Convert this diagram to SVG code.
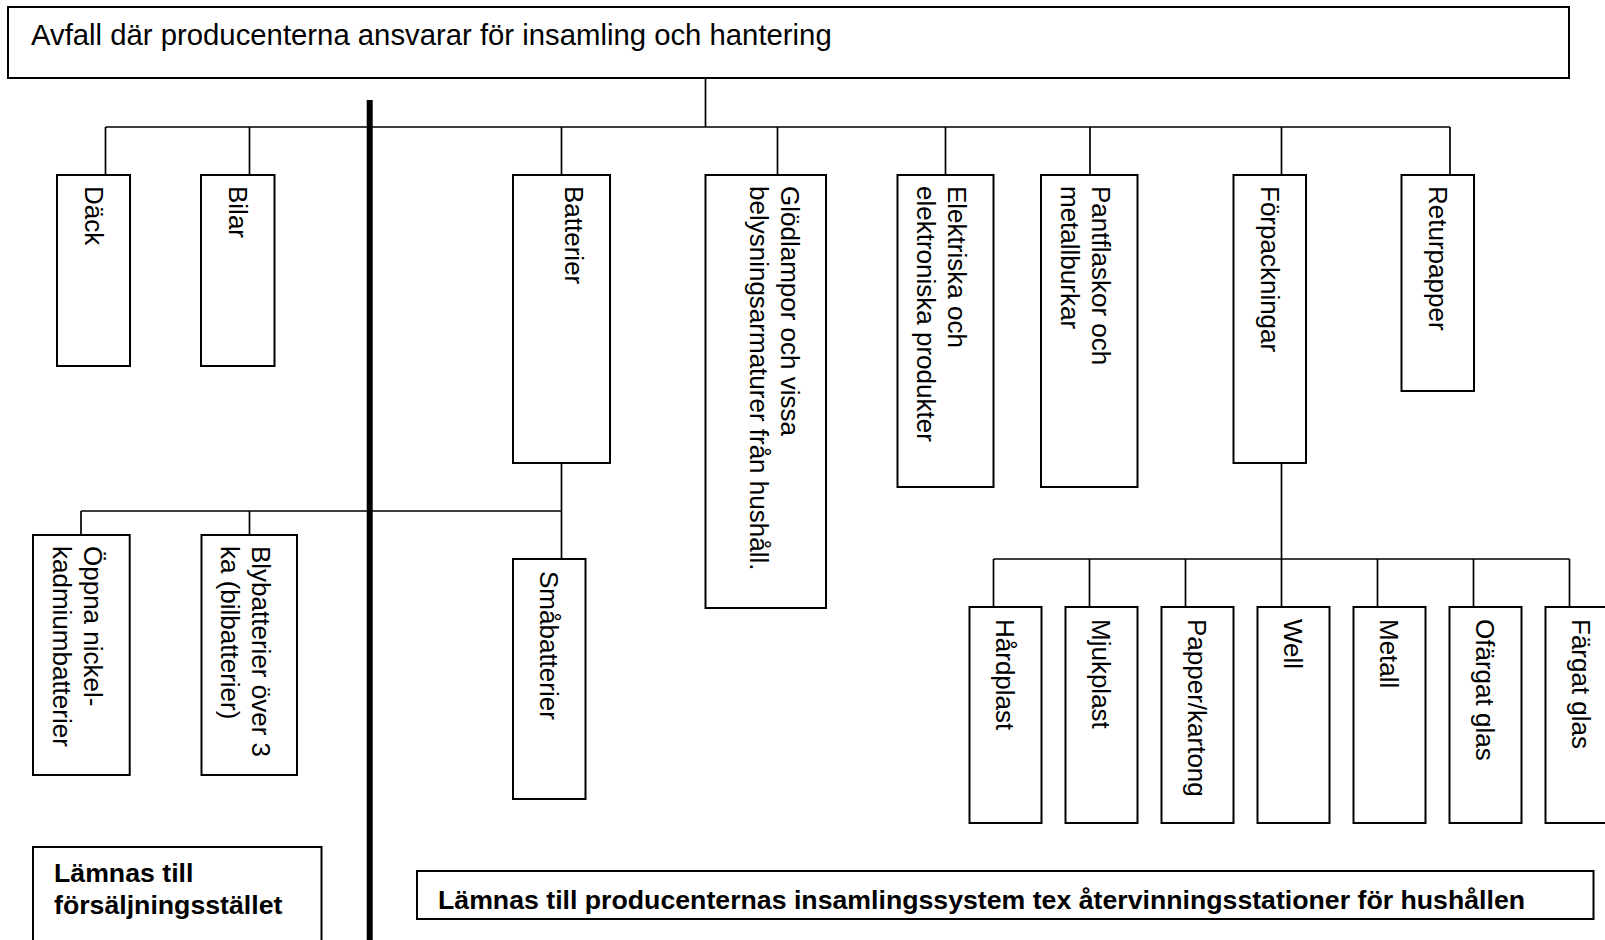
<svg xmlns="http://www.w3.org/2000/svg" width="1605" height="940" viewBox="0 0 1605 940">
<style>
.box{fill:#fff;stroke:#000;stroke-width:2}
.con{fill:none;stroke:#000;stroke-width:1.7}
.t{font-family:"Liberation Sans",Arial,sans-serif;font-size:26px;fill:#000}
.title{font-family:"Liberation Sans",Arial,sans-serif;font-size:29.3px;fill:#000}
.b{font-family:"Liberation Sans",Arial,sans-serif;font-size:26.7px;font-weight:bold;fill:#000}
</style>
<rect width="1605" height="940" fill="#fff"/>
<g id="connectors">
<path class="con" d="M705.5,78 V127 M105.5,127 H1450 M105.5,127 V175 M249.5,127 V175 M561.5,127 V175 M777.5,127 V175 M945.5,127 V175 M1090,127 V175 M1281.5,127 V175 M1450,127 V175"/>
<path class="con" d="M561.5,463 V559 M81,511 H561.5 M81,511 V535 M249.5,511 V535"/>
<path class="con" d="M1281.5,463 V559 M993.5,559 H1569.5 M993.5,559 V607 M1089.5,559 V607 M1185.5,559 V607 M1281.5,559 V607 M1377.5,559 V607 M1473.5,559 V607 M1569.5,559 V607"/>
<line x1="369.7" y1="100" x2="369.7" y2="940" stroke="#000" stroke-width="6"/>
</g>
<g id="root"><rect class="box" x="8" y="7" width="1561" height="71"/><text class="title" x="31" y="45">Avfall där producenterna ansvarar för insamling och hantering</text></g>
<g id="dack"><rect class="box" x="57" y="175" width="73" height="191"/><text class="t" transform="translate(84.5,186) rotate(90)">Däck</text></g>
<g id="bilar"><rect class="box" x="201" y="175" width="73.5" height="191"/><text class="t" transform="translate(229,186) rotate(90)">Bilar</text></g>
<g id="batterier"><rect class="box" x="513" y="175" width="97" height="288"/><text class="t" transform="translate(564.5,186) rotate(90)">Batterier</text></g>
<g id="glodlampor"><rect class="box" x="705.5" y="175" width="120.5" height="433"/><text class="t" transform="translate(780.5,186) rotate(90)">Glödlampor och vissa</text><text class="t" transform="translate(749.5,186) rotate(90)">belysningsarmaturer från hushåll.</text></g>
<g id="elektriska"><rect class="box" x="897.5" y="175" width="96" height="312"/><text class="t" transform="translate(948,186) rotate(90)">Elektriska och</text><text class="t" transform="translate(917,186) rotate(90)">elektroniska produkter</text></g>
<g id="pantflaskor"><rect class="box" x="1041" y="175" width="96.5" height="312"/><text class="t" transform="translate(1092,186) rotate(90)">Pantflaskor och</text><text class="t" transform="translate(1061,186) rotate(90)">metallburkar</text></g>
<g id="forpackningar"><rect class="box" x="1233.5" y="175" width="72.5" height="288"/><text class="t" transform="translate(1260.5,186) rotate(90)">Förpackningar</text></g>
<g id="returpapper"><rect class="box" x="1401.5" y="175" width="72.5" height="216"/><text class="t" transform="translate(1428.5,186) rotate(90)">Returpapper</text></g>
<g id="oppna"><rect class="box" x="33" y="535" width="96.7" height="240"/><text class="t" transform="translate(84,546) rotate(90)">Öppna nickel-</text><text class="t" transform="translate(53,546) rotate(90)">kadmiumbatterier</text></g>
<g id="blybatterier"><rect class="box" x="201.5" y="535" width="95.5" height="240"/><text class="t" transform="translate(251.5,546) rotate(90)">Blybatterier över 3</text><text class="t" transform="translate(220.5,546) rotate(90)">ka (bilbatterier)</text></g>
<g id="smabatterier"><rect class="box" x="513" y="559" width="72.5" height="240"/><text class="t" transform="translate(540,571) rotate(90)">Småbatterier</text></g>
<g id="hardplast"><rect class="box" x="969.5" y="607" width="72" height="216"/><text class="t" transform="translate(996,619) rotate(90)">Hårdplast</text></g>
<g id="mjukplast"><rect class="box" x="1065.5" y="607" width="72" height="216"/><text class="t" transform="translate(1092,619) rotate(90)">Mjukplast</text></g>
<g id="papper"><rect class="box" x="1161.5" y="607" width="72" height="216"/><text class="t" transform="translate(1188,619) rotate(90)">Papper/kartong</text></g>
<g id="well"><rect class="box" x="1257.5" y="607" width="72" height="216"/><text class="t" transform="translate(1284,619) rotate(90)">Well</text></g>
<g id="metall"><rect class="box" x="1353.5" y="607" width="72" height="216"/><text class="t" transform="translate(1380,619) rotate(90)">Metall</text></g>
<g id="ofargat"><rect class="box" x="1449.5" y="607" width="72" height="216"/><text class="t" transform="translate(1476,619) rotate(90)">Ofärgat glas</text></g>
<g id="fargat"><rect class="box" x="1545.5" y="607" width="72" height="216"/><text class="t" transform="translate(1572,619) rotate(90)">Färgat glas</text></g>
<g id="forsaljning"><rect class="box" x="33" y="847" width="288.5" height="120"/><text class="b" x="54" y="882">Lämnas till</text><text class="b" x="54" y="913.5">försäljningsstället</text></g>
<g id="insamling"><rect class="box" x="417" y="871" width="1176.5" height="48"/><text class="b" x="438" y="909">Lämnas till producenternas insamlingssystem tex återvinningsstationer för hushållen</text></g>
</svg>
